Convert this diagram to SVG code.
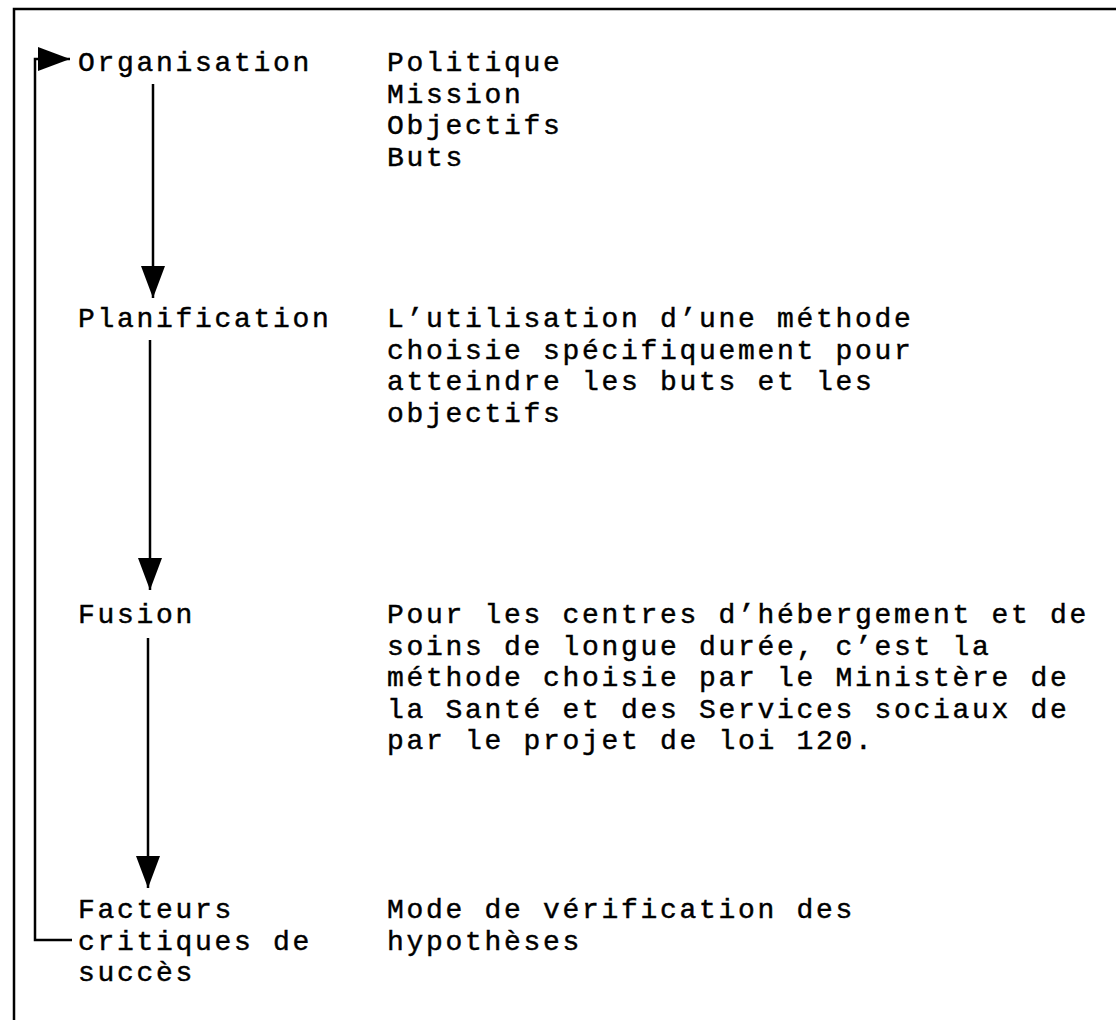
<svg xmlns="http://www.w3.org/2000/svg" width="1116" height="1020" viewBox="0 0 1116 1020">
  <style>
    text { font-family: "Liberation Mono", "Courier New", monospace; font-size: 28px; letter-spacing: 2.7px; fill: #000; stroke: #000; stroke-width: 0.45px; }
    .frame { fill: none; stroke: #000; stroke-width: 2.5; }
    .edge { fill: none; stroke: #000; stroke-width: 2.5; }
  </style>
  <defs>
    <marker id="head" viewBox="0 0 32 24" refX="32" refY="12" markerWidth="32" markerHeight="24" markerUnits="userSpaceOnUse" orient="auto">
      <path d="M0,0 L32,12 L0,24 Z" fill="#000"/>
    </marker>
  </defs>

  <!-- page frame (top and left rules) -->
  <path class="frame" d="M14,1020 V9 H1116"/>

  <!-- stages -->
  <g id="organisation">
    <text x="78" y="71">Organisation</text>
    <text x="387" y="71">Politique</text>
    <text x="387" y="102.5">Mission</text>
    <text x="387" y="134">Objectifs</text>
    <text x="387" y="165.5">Buts</text>
  </g>
  <g id="planification">
    <text x="78" y="327">Planification</text>
    <text x="387" y="327">L’utilisation d’une méthode</text>
    <text x="387" y="358.5">choisie spécifiquement pour</text>
    <text x="387" y="390">atteindre les buts et les</text>
    <text x="387" y="421.5">objectifs</text>
  </g>
  <g id="fusion">
    <text x="78" y="623">Fusion</text>
    <text x="387" y="623">Pour les centres d’hébergement et de</text>
    <text x="387" y="654.5">soins de longue durée, c’est la</text>
    <text x="387" y="686">méthode choisie par le Ministère de</text>
    <text x="387" y="717.5">la Santé et des Services sociaux de</text>
    <text x="387" y="749">par le projet de loi 120.</text>
  </g>
  <g id="facteurs">
    <text x="78" y="918">Facteurs</text>
    <text x="78" y="949.5">critiques de</text>
    <text x="78" y="981">succès</text>
    <text x="387" y="918">Mode de vérification des</text>
    <text x="387" y="949.5">hypothèses</text>
  </g>

  <!-- connectors -->
  <g id="connectors">
    <path class="edge" d="M153,84 V298" marker-end="url(#head)"/>
    <path class="edge" d="M150,340 V590" marker-end="url(#head)"/>
    <path class="edge" d="M148,638 V888" marker-end="url(#head)"/>
    <path class="edge" d="M72,940 H35 V59 H70" marker-end="url(#head)"/>
  </g>
</svg>
